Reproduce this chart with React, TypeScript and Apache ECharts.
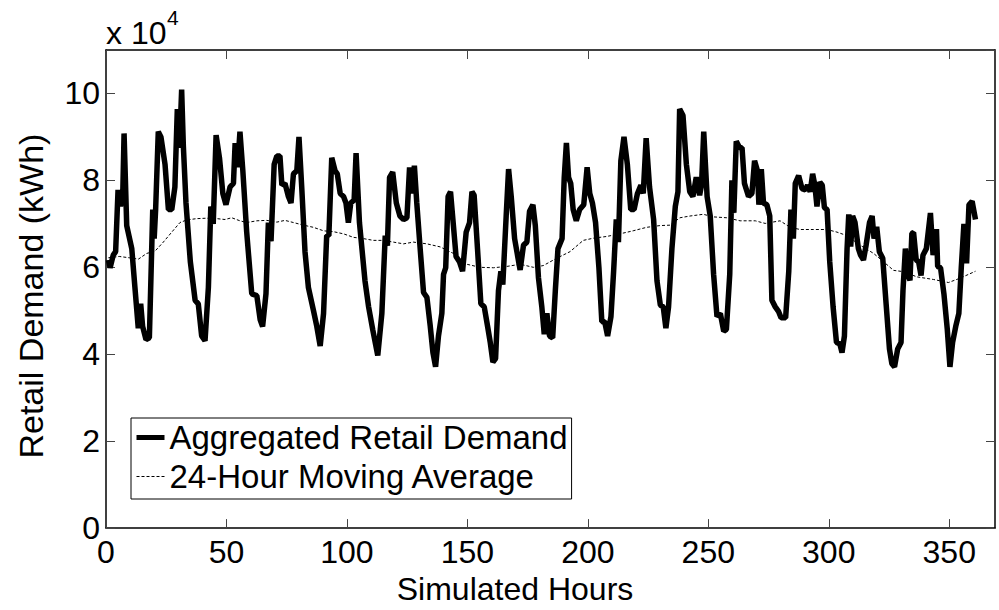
import React, { useEffect, useRef } from "react";
import * as echarts from "echarts";

// Aggregated retail demand (x 10^4 kWh): [hour] and [value]
const demandHours = [1,1.7,3,4,5,6,7,7.5,8.6,10.7,12,13.4,14.4,15.2,16.6,18,19.4,20,20.6,21.7,22.8,24.5,25.9,27.3,28.6,29.6,30.5,31.4,32.1,33.2,35,37,38.3,39.7,41.1,42.5,43.5,44.5,45.7,47.1,48.5,49.8,51.5,52.9,53.6,54.6,55.6,56.8,58.4,60.5,62.6,64,65,66.4,67.4,68.5,69.8,70.9,72.2,73,74.3,75.7,76.8,77.8,79.2,80.1,81.3,82.6,84,86.1,87.5,88.9,90.3,91.6,92.5,93.7,95.1,96,97.2,98.6,99.6,100.6,101.6,103,103.8,105.2,107.5,109,110.7,112.8,114.5,115.9,116.8,117.7,119,120.5,122,123.5,124.9,126,127,128,129,130.4,131.8,133.2,134.6,135.7,136.8,138,139.4,140.1,141,142,143,144.2,145.3,146.7,148,149.5,150.9,151.9,152.8,154.2,155.6,157,158.4,159.5,160.6,161.7,162.9,163.9,164.7,166.1,167.1,168.2,169.6,170.8,171.9,173.3,174.7,175.8,177.2,178.2,179.5,180.9,181.9,183,184.1,185.4,186.5,187.6,189.3,190.2,191.1,192,192.9,193.9,195.2,196.6,198.3,199.7,200.8,201.9,203.2,204.6,205.8,207,208.2,209.6,210.7,211.8,212.7,213.7,215,216.4,217.8,219.2,220.6,222,223,224.2,225.6,227.3,228.7,230.1,231.3,232.4,233.5,234.9,236.3,237.4,238.1,239.5,240.9,242.3,243.6,245,246.4,247.2,248.1,249.5,250.8,252.2,253.6,255,256.4,257.5,258.9,259.8,260.6,261.6,263,264,265,266.7,268.1,269.2,270.4,271,272,272.9,274.3,275.5,276.4,277.8,279.2,280.2,282.1,283.4,284.3,285.3,286.1,287.5,288.9,290.3,291.2,292.3,293.3,294.2,295.1,296.3,297.3,298.2,299.3,300.4,301.8,303.2,304.6,305.5,306.5,307.6,308.3,309.1,309.9,310.9,312.3,313.2,314.4,315.5,316.9,318,318.8,319.9,321,322.4,323.8,325.2,326.2,327.3,328.6,330,330.8,331.8,332.8,333.7,334.5,335.2,336.3,337.3,338.3,339.1,340.5,342.2,343.3,344.7,345.2,346.4,347.8,349.2,350.3,351.4,352.7,354,355,356.1,357.2,358.2,359.5,360.9];
const demandValues = [6.17,5.99,6.28,6.36,7.78,7.4,7.8,9.08,6.96,6.43,5.54,4.6,5.16,4.64,4.34,4.38,7.33,6.66,7.33,9.12,9.0,8.37,7.33,7.33,7.85,9.64,8.75,10.09,8.8,7.48,6.13,5.24,5.16,4.42,4.31,5.54,7.4,7.0,9.04,8.52,7.7,7.44,7.85,7.93,8.86,8.3,9.12,8.22,6.81,5.39,5.35,4.79,4.64,5.39,7.03,6.6,8.37,8.56,8.56,7.89,7.93,7.63,7.48,8.15,8.22,9.0,7.78,6.36,5.54,5.01,4.64,4.19,4.94,6.73,6.73,8.52,8.22,8.15,7.7,7.63,7.48,7.03,7.48,7.55,8.63,7.03,5.69,5.09,4.57,3.97,4.94,6.73,6.5,8.07,8.19,7.48,7.18,7.1,7.14,8.3,7.7,8.34,7.48,6.43,5.42,5.31,4.64,4.04,3.71,4.42,4.94,5.84,5.99,7.63,7.74,6.96,6.25,6.13,5.91,6.81,7.03,7.74,7.66,6.43,5.16,5.09,4.64,4.27,3.82,3.9,5.46,5.91,5.6,7.18,8.26,7.63,6.66,6.28,5.94,6.51,6.58,7.29,7.44,6.96,5.76,5.09,4.46,4.94,4.42,4.38,5.46,6.43,6.66,8.07,8.86,8.07,7.93,7.33,7.07,7.33,7.44,8.3,7.7,7.48,7.03,5.99,4.75,4.75,4.42,4.87,5.91,7.1,6.58,8.45,9.0,8.37,7.33,7.33,7.7,7.89,7.7,8.97,7.85,7.1,5.69,5.13,5.09,4.6,5.09,6.43,7.4,7.74,9.64,9.49,8.37,7.74,7.63,8.07,7.66,7.9,9.12,7.63,7.18,5.84,4.87,4.94,4.53,4.57,5.84,8.0,7.25,8.9,8.75,8.75,7.93,7.63,7.7,8.45,8.22,7.44,8.26,7.48,7.44,7.18,5.24,5.09,4.98,4.84,4.84,5.91,7.33,6.66,7.93,8.11,7.81,7.78,7.89,7.74,8.15,7.9,7.4,7.96,7.89,7.37,7.33,6.13,5.09,4.27,4.24,4.04,4.42,6.43,7.22,6.48,7.18,7.03,6.43,6.28,6.17,6.51,7.03,7.18,6.66,6.93,6.36,6.21,5.16,4.12,3.78,3.71,4.12,4.27,5.46,6.43,5.84,5.7,6.78,6.8,6.17,6.13,5.81,6.28,6.43,7.25,6.28,6.88,6.02,5.99,5.39,4.57,3.71,4.27,4.64,4.94,5.99,7.0,6.09,7.44,7.52,7.1];

// 24-hour moving average
const maHours = [1,5.5,9.6,13.5,16.9,20.3,23.8,27.3,30.7,33.5,37.6,41.8,46,49.4,52.2,55.6,58.4,62.6,66.7,70.9,74.3,77.8,82,86.1,90.3,94.4,98.6,102.7,106.9,111,115.2,119.3,123.5,127.6,133.2,138.7,144.2,149.8,155.3,160.8,166.3,171.9,177.4,181.5,187.1,192.6,198.1,202.3,207.8,213.3,218.8,224.4,229.9,234.1,238.2,242.4,247.9,252.2,257.7,263.2,269.5,273.6,279.8,284,288.1,293.7,299.2,303.4,307.5,313,318.6,322.7,326.9,331,336.6,343.5,349.7,354.5,360.9];
const maValues = [6.22,6.25,6.22,6.19,6.32,6.37,6.58,6.81,7.03,7.09,7.12,7.13,7.12,7.1,7.14,7.07,7.03,7.07,7.08,7.04,7.08,7.03,6.97,6.92,6.84,6.82,6.77,6.69,6.66,6.62,6.62,6.58,6.54,6.58,6.54,6.47,6.32,6.07,6.0,5.99,6.02,6.07,6.0,6.04,6.21,6.36,6.62,6.67,6.71,6.77,6.84,6.92,6.96,6.97,7.14,7.18,7.22,7.16,7.14,7.07,7.07,7.01,7.07,6.92,6.87,6.87,6.87,6.81,6.73,6.51,6.32,6.13,5.93,5.9,5.78,5.72,5.65,5.75,5.91];

const xTicksMax = 369;
const yTicksMax = 11;
const seriesNames = ["Aggregated Retail Demand", "24-Hour Moving Average"];

const FONT = "'Liberation Sans', Arial, Helvetica, sans-serif";

export default function App() {
  const ref = useRef<HTMLDivElement>(null);
  useEffect(() => {
    if (!ref.current) return;
    const chart = echarts.init(ref.current, undefined, { renderer: "svg" });
    const demand = demandHours.map((h, i) => [h, demandValues[i]]);
    const ma = maHours.map((h, i) => [h, maValues[i]]);
    const axisLine = { show: true, onZero: false, lineStyle: { color: "#000", width: 1.5 } };
    const tick = { show: true, inside: true, length: 9, lineStyle: { color: "#444", width: 1 } };
    chart.setOption({
      animation: false,
      backgroundColor: "#fff",
      textStyle: { fontFamily: FONT },
      grid: { left: 106, right: 4, top: 50, bottom: 69, containLabel: false },
      xAxis: [
        {
          type: "value", min: 0, max: xTicksMax, interval: 50, position: "bottom",
          axisLine, axisTick: tick, splitLine: { show: false },
          axisLabel: { fontSize: 32, color: "#000", fontFamily: FONT, margin: 8, showMaxLabel: false },
          name: "Simulated Hours", nameLocation: "middle", nameGap: 38,
          nameTextStyle: { fontSize: 32, color: "#000", fontFamily: FONT, padding: [0, 71, 0, 0] },
        },
        {
          type: "value", min: 0, max: xTicksMax, interval: 50, position: "top",
          axisLine, axisTick: tick, splitLine: { show: false }, axisLabel: { show: false },
        },
      ],
      yAxis: [
        {
          type: "value", min: 0, max: yTicksMax, interval: 2, position: "left",
          axisLine, axisTick: tick, splitLine: { show: false },
          axisLabel: { fontSize: 32, color: "#000", fontFamily: FONT, margin: 6, showMaxLabel: false },
          name: "Retail Demand (kWh)", nameLocation: "middle", nameGap: 58,
          nameTextStyle: { fontSize: 34, color: "#000", fontFamily: FONT, padding: [0, 14, 0, 0] },
        },
        {
          type: "value", min: 0, max: yTicksMax, interval: 2, position: "right",
          axisLine, axisTick: tick, splitLine: { show: false }, axisLabel: { show: false },
        },
      ],
      legend: {
        orient: "vertical", left: 131, top: 418,
        itemWidth: 28, itemHeight: 14, itemGap: 6,
        padding: [3, 4, 6, 3],
        borderColor: "#000", borderWidth: 1, backgroundColor: "#fff",
        itemStyle: { opacity: 0 },
        lineStyle: { width: "inherit" },
        textStyle: { fontSize: 33, color: "#000", fontFamily: FONT },
        data: [
          { name: seriesNames[0], lineStyle: { width: 5 } },
          { name: seriesNames[1], lineStyle: { width: 1 } },
        ],
      },
      graphic: [
        { type: "text", left: 106, top: 17, style: { text: "x 10", fontSize: 32, fontFamily: FONT, fill: "#000" } },
        { type: "text", left: 167, top: 7, style: { text: "4", fontSize: 21, fontFamily: FONT, fill: "#000" } },
      ],
      series: [
        {
          name: seriesNames[0], type: "line", data: demand, symbol: "none",
          lineStyle: { color: "#000", width: 5.5 }, itemStyle: { color: "#000" }, z: 3,
        },
        {
          name: seriesNames[1], type: "line", data: ma, symbol: "none", smooth: false,
          lineStyle: { color: "#000", width: 1, type: [3, 2] }, itemStyle: { color: "#000" }, z: 4,
        },
      ],
    });
    return () => chart.dispose();
  }, []);
  return <div ref={ref} style={{ position: "fixed", left: 0, top: 0, width: 999, height: 610, background: "#fff" }} />;
}
